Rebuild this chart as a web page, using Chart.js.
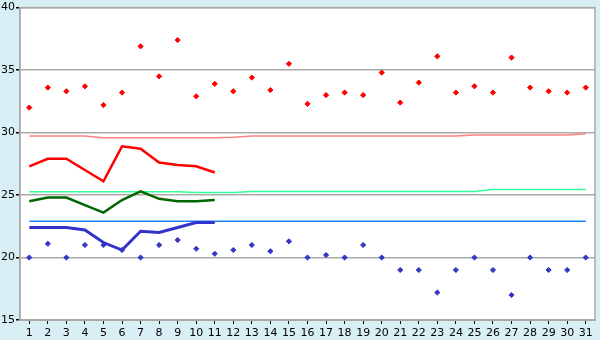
<!DOCTYPE html>
<html>
<head>
<meta charset="utf-8">
<script src="https://cdn.jsdelivr.net/npm/chart.js@4.4.1/dist/chart.umd.min.js"></script>
<style>
  html, body { margin: 0; padding: 0; background: #d9eff6; }
  #wrap { width: 600px; height: 340px; }
</style>
</head>
<body>
<div id="wrap"><canvas id="tempChart" width="600" height="340"></canvas></div>
<script>
// days of the month
const days = ['1','2','3','4','5','6','7','8','9','10','11','12','13','14','15','16',
  '17','18','19','20','21','22','23','24','25','26','27','28','29','30','31'];

// daily highs / lows (points)
const highs = [32.0, 33.6, 33.3, 33.7, 32.2, 33.2, 36.9, 34.5, 37.4, 32.9, 33.9, 33.3, 34.4, 33.4, 35.5, 32.3,
  33.0, 33.2, 33.0, 34.8, 32.4, 34.0, 36.1, 33.2, 33.7, 33.2, 36.0, 33.6, 33.3, 33.2, 33.6];
const lows = [20.0, 21.1, 20.0, 21.0, 21.0, 20.6, 20.0, 21.0, 21.4, 20.7, 20.3, 20.6, 21.0, 20.5, 21.3, 20.0,
  20.2, 20.0, 21.0, 20.0, 19.0, 19.0, 17.2, 19.0, 20.0, 19.0, 17.0, 20.0, 19.0, 19.0, 20.0];

// running lines (first 11 days)
const highAvg = [27.3, 27.9, 27.9, 27.0, 26.1, 28.9, 28.7, 27.6, 27.4, 27.3, 26.8];
const meanAvg = [24.5, 24.8, 24.8, 24.2, 23.6, 24.6, 25.3, 24.7, 24.5, 24.5, 24.6];
const lowAvg = [22.4, 22.4, 22.4, 22.2, 21.2, 20.6, 22.1, 22.0, 22.4, 22.8, 22.8];

// normals
const highNorm = [29.73, 29.73, 29.73, 29.73, 29.58, 29.58, 29.58, 29.58, 29.58, 29.58, 29.58, 29.62, 29.73, 29.73,
  29.73, 29.73, 29.73, 29.73, 29.73, 29.73, 29.73, 29.73, 29.73, 29.73, 29.81, 29.81, 29.81, 29.81, 29.81, 29.81, 29.9];
const meanNorm = [25.26, 25.26, 25.26, 25.26, 25.26, 25.26, 25.26, 25.26, 25.26, 25.21, 25.21, 25.21, 25.29, 25.29,
  25.29, 25.29, 25.29, 25.29, 25.29, 25.29, 25.29, 25.29, 25.29, 25.29, 25.29, 25.45, 25.45, 25.45, 25.45, 25.45, 25.45];
const lowNorm = [22.9, 22.9, 22.9, 22.9, 22.9, 22.9, 22.9, 22.9, 22.9, 22.9, 22.9, 22.9, 22.9, 22.9, 22.9, 22.9,
  22.9, 22.9, 22.9, 22.9, 22.9, 22.9, 22.9, 22.9, 22.9, 22.9, 22.9, 22.9, 22.9, 22.9, 22.9];

const yTicks = [15, 20, 25, 30, 35, 40];

// white plot area + gray frame
const plotBg = {
  id: 'plotBg',
  beforeDraw(chart) {
    const a = chart.chartArea, c = chart.ctx;
    c.save();
    c.fillStyle = '#ffffff';
    c.fillRect(a.left, a.top, a.right - a.left, a.bottom - a.top);
    c.restore();
  },
  afterDatasetsDraw(chart) {
    const a = chart.chartArea, c = chart.ctx;
    c.save();
    c.strokeStyle = '#aaaaaa';
    c.lineWidth = 1.5;
    c.strokeRect(a.left, a.top, a.right - a.left, a.bottom - a.top);
    c.restore();
  }
};

function thinLine(data, color) {
  return { type: 'line', data: data, borderColor: color, borderWidth: 1.5, pointRadius: 0, tension: 0, order: 5 };
}
function thickLine(data, color, w) {
  return { type: 'line', data: data, borderColor: color, borderWidth: w, pointRadius: 0, tension: 0, order: 3 };
}
function dots(data, color) {
  return { type: 'line', data: data, showLine: false, pointStyle: 'rectRot', pointRadius: 2.6,
    pointBackgroundColor: color, pointBorderColor: color, pointBorderWidth: 1, order: 1 };
}

const ctx = document.getElementById('tempChart').getContext('2d');
const chart = new Chart(ctx, {
  type: 'line',
  data: {
    labels: days,
    datasets: [
      thinLine(highNorm, '#ff8080'),
      thinLine(meanNorm, '#33ff99'),
      thinLine(lowNorm, '#1a80ff'),
      thickLine(highAvg, '#ff0000', 2.5),
      thickLine(meanAvg, '#006600', 2.5),
      thickLine(lowAvg, '#3333cc', 3),
      dots(highs, '#ff0000'),
      dots(lows, '#3535c8')
    ]
  },
  options: {
    responsive: false,
    animation: false,
    layout: { padding: { top: 5, right: 5, left: 0, bottom: 0 } },
    plugins: { legend: { display: false }, tooltip: { enabled: false } },
    scales: {
      x: {
        offset: true,
        grid: { drawOnChartArea: false, drawTicks: true, tickLength: 4, tickColor: '#000', offset: false },
        border: { display: true, color: '#aaaaaa' },
        ticks: { color: '#000', font: { family: 'DejaVu Sans', size: 11 }, padding: 3, maxRotation: 0, autoSkip: false },
        afterFit(s) { s.height = 20; }
      },
      y: {
        min: 15,
        max: 40,
        afterBuildTicks(s) { s.ticks = yTicks.map(v => ({ value: v })); },
        grid: { color: '#aaaaaa', lineWidth: 1.5, tickLength: 4, tickColor: '#000' },
        border: { display: true, color: '#aaaaaa', width: 1.5 },
        ticks: { color: '#000', font: { family: 'DejaVu Sans', size: 11 }, padding: 1 },
        afterFit(s) { s.width = 20; }
      }
    }
  },
  plugins: [plotBg]
});
</script>
</body>
</html>
